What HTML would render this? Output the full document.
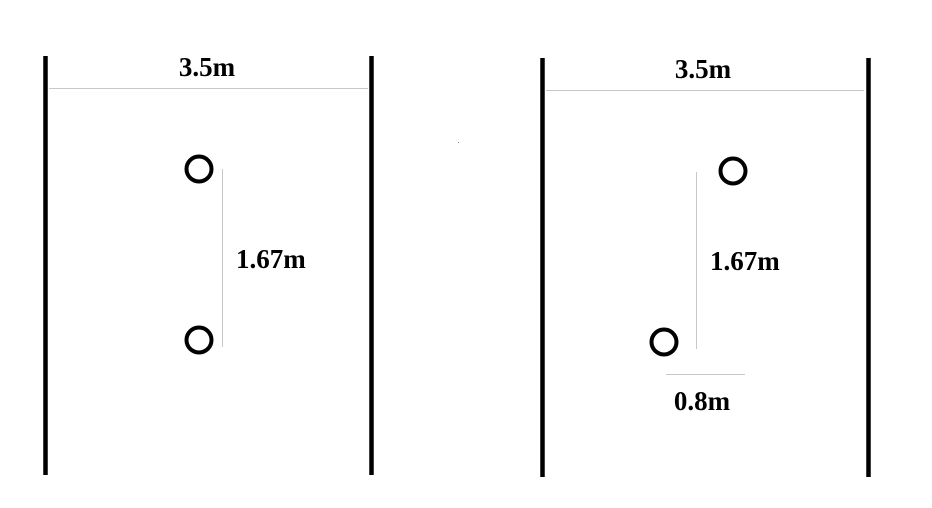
<!DOCTYPE html>
<html><head><meta charset="utf-8"><style>
html,body{margin:0;padding:0;background:#fff;width:932px;height:508px;overflow:hidden}
svg text{font-family:"Liberation Serif",serif;font-weight:bold;font-size:27px;fill:#000}
</style></head><body>
<svg width="932" height="508" viewBox="0 0 932 508">
<g>
<line x1="45.5" y1="56" x2="45.5" y2="475" stroke="#000" stroke-width="4.5"/>
<line x1="371.5" y1="56" x2="371.5" y2="475" stroke="#000" stroke-width="4.5"/>
<line x1="49" y1="88.5" x2="368" y2="88.5" stroke="#c8c8c8" stroke-width="1"/>
<text x="207" y="76" text-anchor="middle">3.5m</text>
<circle cx="199" cy="169" r="12.5" fill="none" stroke="#000" stroke-width="4"/>
<circle cx="199" cy="340" r="12.5" fill="none" stroke="#000" stroke-width="4"/>
<line x1="222.5" y1="169" x2="222.5" y2="347" stroke="#c8c8c8" stroke-width="1"/>
<text x="236" y="268">1.67m</text>
</g>
<rect x="458" y="142" width="1" height="1" fill="#888"/>
<g>
<line x1="542.5" y1="58" x2="542.5" y2="477" stroke="#000" stroke-width="4.5"/>
<line x1="868.5" y1="58" x2="868.5" y2="477" stroke="#000" stroke-width="4.5"/>
<line x1="546" y1="90.5" x2="864" y2="90.5" stroke="#c8c8c8" stroke-width="1"/>
<text x="703" y="78" text-anchor="middle">3.5m</text>
<circle cx="733" cy="171" r="12.5" fill="none" stroke="#000" stroke-width="4"/>
<circle cx="664" cy="342" r="12.5" fill="none" stroke="#000" stroke-width="4"/>
<line x1="696.5" y1="172" x2="696.5" y2="349" stroke="#c8c8c8" stroke-width="1"/>
<text x="710" y="270">1.67m</text>
<line x1="666" y1="374.5" x2="745" y2="374.5" stroke="#c8c8c8" stroke-width="1"/>
<text x="702" y="410" text-anchor="middle">0.8m</text>
</g>
</svg>
</body></html>
